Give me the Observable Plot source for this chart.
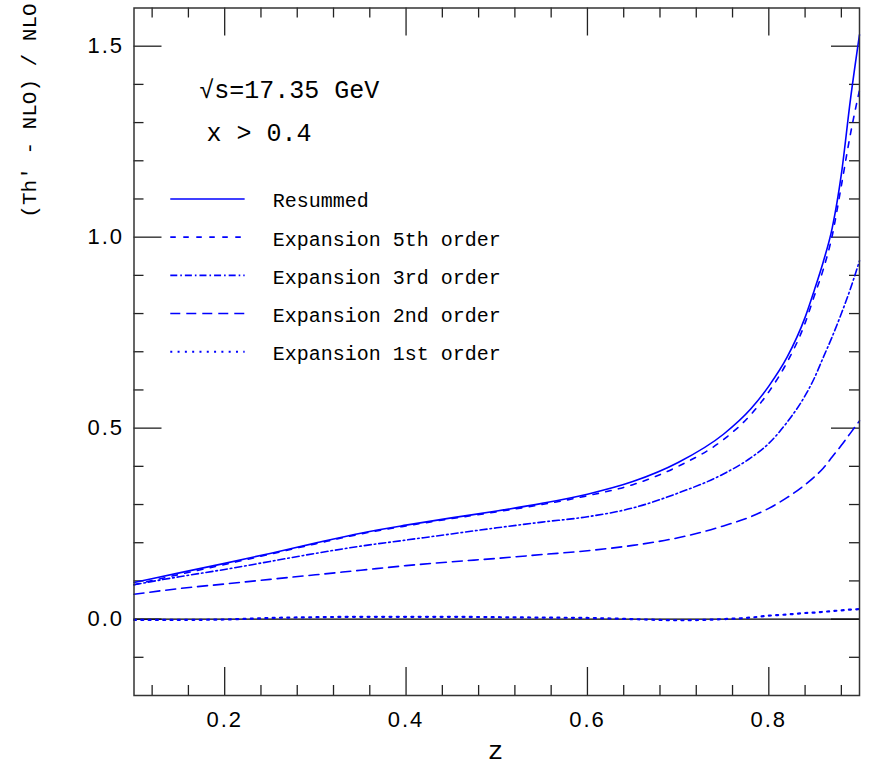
<!DOCTYPE html>
<html><head><meta charset="utf-8">
<script src="https://cdn.jsdelivr.net/npm/d3@7"></script>
<script src="https://cdn.jsdelivr.net/npm/@observablehq/plot@0.6"></script>
<style>
body{margin:0;background:#fff}
#chart svg{display:block;background:#fff}
g[aria-label="x-axis tick label"] text, g[aria-label="y-axis tick label"] text{letter-spacing:2px}
</style></head><body><div id="chart"></div>
<script>
// ---- data ----
const z         = [0.10, 0.15, 0.20, 0.25, 0.30, 0.35, 0.40, 0.45, 0.50, 0.55, 0.60, 0.65, 0.70, 0.75, 0.78, 0.80, 0.82, 0.84, 0.85, 0.86, 0.87, 0.88, 0.89, 0.90];
const resummed  = [0.096,0.121,0.146,0.172,0.199,0.225,0.246,0.265,0.283,0.303,0.327,0.360,0.410,0.484,0.550,0.610,0.685,0.790,0.860,0.935,1.025,1.165,1.360,1.530];
const exp5      = [0.090,0.117,0.143,0.170,0.197,0.223,0.244,0.263,0.281,0.300,0.323,0.352,0.400,0.470,0.535,0.595,0.672,0.775,0.845,0.915,1.005,1.135,1.270,1.385];
const exp3      = [0.090,0.111,0.130,0.151,0.172,0.191,0.207,0.223,0.239,0.254,0.268,0.291,0.330,0.380,0.422,0.460,0.515,0.585,0.630,0.685,0.740,0.800,0.865,0.938];
const exp2      = [0.065,0.080,0.092,0.104,0.116,0.128,0.140,0.150,0.159,0.169,0.179,0.193,0.213,0.244,0.268,0.290,0.318,0.352,0.372,0.395,0.425,0.455,0.487,0.519];
const exp1      = [-0.002,-0.002,-0.001,0.003,0.005,0.006,0.006,0.006,0.005,0.004,0.003,0.000,-0.003,0.000,0.004,0.009,0.012,0.016,0.017,0.019,0.021,0.023,0.025,0.026];
const seriesNames = ["Resummed","Expansion 5th order","Expansion 3rd order","Expansion 2nd order","Expansion 1st order"];
const xMajorTicks = [0.2, 0.4, 0.6, 0.8];
const xMinorTicks = [0.12,0.16,0.24,0.28,0.32,0.36,0.44,0.48,0.52,0.56,0.64,0.68,0.72,0.76,0.84,0.88];
const yMajorTicks = [0, 0.5, 1, 1.5];
const yMinorTicks = [-0.1,0.1,0.2,0.3,0.4,0.6,0.7,0.8,0.9,1.1,1.2,1.3,1.4];
const annotations = ["√s=17.35 GeV", "x > 0.4"];
const yLabel = "(Th′ - NLO) / NLO";
const xLabel = "z";

// ---- layout ----
const W = 892, H = 768, mL = 133.5, mR = 33, mT = 7.5, mB = 73;
const pw = W - mL - mR, ph = H - mT - mB;
const xDom = [0.1, 0.9], yDom = [-0.2, 1.6];
const px2x = px => xDom[0] + (px - mL) / pw * (xDom[1] - xDom[0]);
const px2y = py => yDom[1] - (py - mT) / ph * (yDom[1] - yDom[0]);
const blue = "#0000ff";
const mono = "'Liberation Mono','Courier New',monospace";
const sans = "'Liberation Sans',Arial,sans-serif";
const dashes = [null, "5.5,7.5", "7,3,1.6,3", "10,6", "2,5.3"];
const widths = [1.6, 1.6, 1.6, 1.6, 2.2];
const seriesValues = [resummed, exp5, exp3, exp2, exp1];
const rowsOf = vals => z.map((zz, i) => ({z: zz, v: vals[i]}));
const tickStroke = "#222", majorLen = 28, minorLen = 10;

const marks = [];
const tk = {stroke: tickStroke, strokeWidth: 1.3};
marks.push(
  Plot.ruleX(xMajorTicks, {x: d => d, insetTop: ph - majorLen, ...tk}),
  Plot.ruleX(xMajorTicks, {x: d => d, insetBottom: ph - majorLen, ...tk}),
  Plot.ruleX(xMinorTicks, {x: d => d, insetTop: ph - minorLen, ...tk}),
  Plot.ruleX(xMinorTicks, {x: d => d, insetBottom: ph - minorLen, ...tk}),
  Plot.ruleY(yMajorTicks, {y: d => d, insetRight: pw - majorLen, ...tk}),
  Plot.ruleY(yMajorTicks, {y: d => d, insetLeft: pw - majorLen, ...tk}),
  Plot.ruleY(yMinorTicks, {y: d => d, insetRight: pw - minorLen, ...tk}),
  Plot.ruleY(yMinorTicks, {y: d => d, insetLeft: pw - minorLen, ...tk}),
  Plot.ruleY([0], {y: d => d, stroke: "#000", strokeWidth: 1.4})
);
seriesValues.forEach((vals, i) => {
  marks.push(Plot.line(rowsOf(vals), {x: "z", y: "v", stroke: blue, strokeWidth: widths[i],
    strokeDasharray: dashes[i] || undefined, curve: "monotone-x"}));
});
const legX1 = 0.14, legX2 = 0.222, legTx = 0.253, legY0 = 1.1, legStep = 0.1;
seriesNames.forEach((name, i) => {
  marks.push(
    Plot.link([name], {x1: () => legX1, x2: () => legX2, y1: () => legY0 - legStep * i, y2: () => legY0 - legStep * i,
      stroke: blue, strokeWidth: widths[i], strokeDasharray: dashes[i] || undefined}),
    Plot.text([name], {x: () => legTx, y: () => legY0 - legStep * i, text: d => d, textAnchor: "start",
      fontFamily: mono, fontSize: 20, fill: "#000", dy: 2})
  );
});
marks.push(
  Plot.text([annotations[0]], {x: () => 0.172, y: () => 1.386, text: d => d, textAnchor: "start", fontFamily: mono, fontSize: 25, fill: "#000"}),
  Plot.text([annotations[1]], {x: () => 0.18, y: () => 1.272, text: d => d, textAnchor: "start", fontFamily: mono, fontSize: 25, fill: "#000"})
);
marks.push(
  Plot.axisX(xMajorTicks, {tickSize: 0, tickPadding: 16, tickFormat: d => d.toFixed(1), fontSize: 22, fontFamily: sans, fill: "#000", label: null}),
  Plot.axisY(yMajorTicks, {tickSize: 0, tickPadding: 10, tickFormat: d => d.toFixed(1), fontSize: 22, fontFamily: sans, fill: "#000", label: null}),
  Plot.text([yLabel], {x: () => px2x(29), y: () => px2y(110), text: d => d, rotate: -90, textAnchor: "middle",
    fontFamily: mono, fontSize: 21, fill: "#000"}),
  Plot.text([xLabel], {x: () => px2x(495), y: () => px2y(750), text: d => d, fontFamily: mono, fontSize: 26, fill: "#000"}),
  Plot.frame({stroke: "#333", strokeWidth: 1.5})
);

const chart = Plot.plot({
  width: W, height: H,
  marginLeft: mL, marginRight: mR, marginTop: mT, marginBottom: mB,
  x: {domain: xDom, label: null},
  y: {domain: yDom, label: null},
  style: {fontFamily: sans, background: "#fff"},
  marks
});
document.getElementById("chart").appendChild(chart);
</script>
</body></html>
